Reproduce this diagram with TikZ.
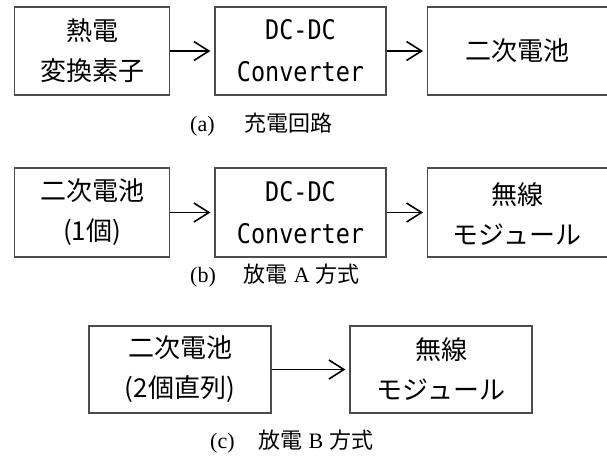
\documentclass[tikz,border=0pt]{standalone}
\usepackage{fontspec}
\setmainfont{Liberation Serif}
\newfontfamily\cjk{Noto Sans CJK JP}
\newfontfamily\dcmono[FakeStretch=0.87]{DejaVu Sans Mono}
\usetikzlibrary{arrows.meta}
\tikzset{
  blk/.style={draw=black!70, line width=1.2pt, inner sep=0pt, align=center,
    font=\cjk\fontsize{26}{40}\selectfont},
  dcbox/.style={blk, font=\dcmono\fontsize{27}{42}\selectfont},
  lbl/.style={inner sep=0pt, align=center, font=\cjk\fontsize{26}{40}\selectfont},
  caption text/.style={inner sep=0pt, anchor=base west, font=\fontsize{22}{26}\selectfont},
  flow/.style={line width=1.6pt, -{Straight Barb[length=15pt,width=19pt]}, shorten >=4pt},
}
\newcommand{\jp}[1]{{\cjk #1}}
\begin{document}
\begin{tikzpicture}[x=1pt,y=-1pt]
\useasboundingbox (0,0) rectangle (607,456);
\clip (0,0) rectangle (607,456);
% row a
\node[blk, minimum width=155pt, minimum height=88pt] (a1) at (92.2,51) {熱電\\変換素子};
\node[dcbox, minimum width=171pt, minimum height=88pt] (a2) at (300.5,51) {DC-DC\\Converter};
\node[blk, minimum width=182pt, minimum height=88pt, anchor=west] (a3) at (427,51) {};
\node[lbl] (a3t) at (517,51) {二次電池};
\draw[flow] (a1) -- (a2);
\draw[flow] (a2) -- (a3);
\node[caption text] (ca) at (190,131) {(a)\hspace{30pt}\jp{充電回路}};
% row b
\node[blk, minimum width=155pt, minimum height=89pt] (b1) at (92.2,212.5) {二次電池\\(1個)};
\node[dcbox, minimum width=171pt, minimum height=89pt] (b2) at (300.5,212.5) {DC-DC\\Converter};
\node[blk, minimum width=182pt, minimum height=89pt, anchor=west] (b3) at (427,212.5) {};
\node[lbl] (b3t) at (517,214) {無線\\モジュール};
\draw[flow] (b1) -- (b2);
\draw[flow] (b2) -- (b3);
\node[caption text] (cb) at (190,282) {(b)\hspace{28pt}\jp{放電}\hspace{6pt}A\hspace{6pt}\jp{方式}};
% row c
\node[blk, minimum width=182pt, minimum height=87pt] (c1) at (180,369.5) {二次電池\\(2個直列)};
\node[blk, minimum width=182pt, minimum height=87pt] (c2) at (441,369.5) {無線\\モジュール};
\draw[flow] (c1) -- (c2);
\node[caption text] (cc) at (210,448) {(c)\hspace{24pt}\jp{放電}\hspace{6pt}B\hspace{6pt}\jp{方式}};
\end{tikzpicture}
\end{document}
